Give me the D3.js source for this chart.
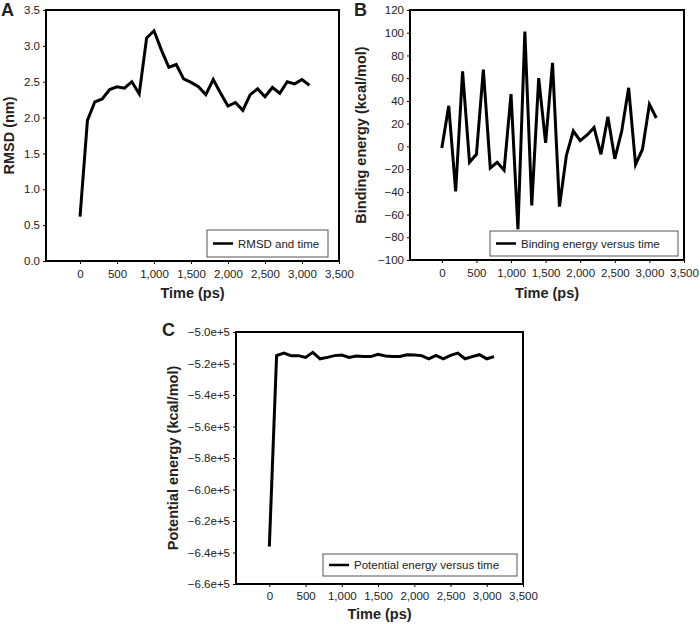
<!DOCTYPE html>
<html><head><meta charset="utf-8">
<script src="https://cdn.jsdelivr.net/npm/d3@7"></script>
<style>
body{margin:0;background:#fff;}
svg{display:block;font-family:Arial,"Liberation Sans",sans-serif;}
</style></head>
<body><svg id="c" width="700" height="624"></svg>
<script>
const timePs = [0,100,200,300,400,500,600,700,800,900,1000,1100,1200,1300,1400,1500,1600,1700,1800,1900,2000,2100,2200,2300,2400,2500,2600,2700,2800,2900,3000,3100];
const rmsd = [0.62,1.96,2.22,2.26,2.39,2.43,2.41,2.50,2.33,3.11,3.21,2.94,2.70,2.74,2.54,2.49,2.43,2.32,2.53,2.34,2.16,2.21,2.10,2.32,2.40,2.29,2.42,2.34,2.50,2.47,2.53,2.45];
const bindingEnergy = [-1.5,35.7,-39.7,66,-14,-7,67.5,-19,-14,-21,46,-73,101,-52,60,3,73.5,-53,-8,13.5,5,10,16.5,-7,26,-11,13.5,51.5,-16,-2.5,37,25];
const potentialEnergy = [-636200,-515000,-513400,-515000,-515000,-516100,-512900,-517000,-516100,-515000,-514600,-516100,-515200,-515600,-515600,-514200,-515200,-515600,-515600,-514400,-514600,-515000,-517000,-514800,-517000,-514800,-513400,-517000,-515600,-514400,-517000,-515600];
const xTicks = [0,500,1000,1500,2000,2500,3000,3500];
const rmsdTicks = [0,0.5,1,1.5,2,2.5,3,3.5];
const bindTicks = [-100,-80,-60,-40,-20,0,20,40,60,80,100,120];
const potTicks = [-660000,-640000,-620000,-600000,-580000,-560000,-540000,-520000,-500000];

const svg = d3.select("#c");
const fmtComma = d3.format(",");
const fmtExp = v => { const m = v/1e5; return (m<0?"\u2212":"")+Math.abs(m).toFixed(1)+"e+5"; };

function panel(o){
  const g = svg.append("g");
  const x = d3.scaleLinear().domain([-460,3500]).range([o.l,o.r]);
  const y = d3.scaleLinear().domain(o.yDomain).range([o.b,o.t]);
  const xa = g.append("g").attr("transform",`translate(0,${o.b})`)
    .call(d3.axisBottom(x).tickValues(xTicks).tickFormat(fmtComma).tickSize(3).tickSizeOuter(0).tickPadding(o.xPad));
  const ya = g.append("g").attr("transform",`translate(${o.l},0)`)
    .call(d3.axisLeft(y).tickValues(o.yTicks).tickFormat(o.yFmt).tickSize(3).tickSizeOuter(0).tickPadding(3));
  [xa,ya].forEach(a=>{
    a.select(".domain").remove();
    a.selectAll("text").attr("font-size","11.5px").attr("fill","#222").attr("font-family","Arial,'Liberation Sans',sans-serif");
    a.selectAll("line").attr("stroke","#000").attr("stroke-width",1);
  });
  const line = d3.line().x((d,i)=>x(timePs[i])).y(d=>y(d));
  g.append("path").datum(o.values).attr("d",line).attr("fill","none")
    .attr("stroke","#000").attr("stroke-width",3).attr("stroke-linejoin","miter");
  g.append("rect").attr("x",o.l).attr("y",o.t).attr("width",o.r-o.l).attr("height",o.b-o.t)
    .attr("fill","none").attr("stroke","#000").attr("stroke-width",2);
  // legend
  const L = o.leg;
  g.append("rect").attr("x",L.x).attr("y",L.y).attr("width",L.w).attr("height",L.h)
    .attr("fill","#fff").attr("stroke","#555").attr("stroke-width",1);
  g.append("line").attr("x1",L.x+6).attr("x2",L.x+26).attr("y1",L.y+L.h/2).attr("y2",L.y+L.h/2)
    .attr("stroke","#000").attr("stroke-width",2.5);
  g.append("text").attr("x",L.x+31).attr("y",L.y+L.h/2+4).attr("font-size","11.5px").attr("fill","#222").text(L.text);
  // titles
  g.append("text").attr("x",(o.l+o.r)/2).attr("y",o.xTitleY).attr("text-anchor","middle")
    .attr("font-size","14.5px").attr("font-weight","bold").attr("fill","#222").text("Time (ps)");
  g.append("text").attr("transform",`translate(${o.yTitleX},${(o.t+o.b)/2}) rotate(-90)`).attr("text-anchor","middle")
    .attr("font-size","14.5px").attr("font-weight","bold").attr("fill","#222").text(o.yTitle);
  g.append("text").attr("x",o.letter[0]).attr("y",o.letter[1]).attr("font-size","18px").attr("font-weight","bold").attr("fill","#222").text(o.letter[2]);
}

panel({l:46,r:339,t:10,b:261,yDomain:[0,3.5],yTicks:rmsdTicks,yFmt:d3.format(".1f"),values:rmsd,xPad:6,
  leg:{x:207,y:230,w:121,h:27,text:"RMSD and time"},xTitleY:298,yTitleX:14,yTitle:"RMSD (nm)",letter:[1,16,"A"]});
panel({l:410,r:684,t:10,b:260,yDomain:[-100,120],yTicks:bindTicks,yFmt:d3.format("d"),values:bindingEnergy,xPad:6,
  leg:{x:490,y:231,w:188,h:25,text:"Binding energy versus time"},xTitleY:298,yTitleX:366,yTitle:"Binding energy (kcal/mol)",letter:[354,16,"B"]});
panel({l:236,r:523,t:332,b:584,yDomain:[-660000,-500000],yTicks:potTicks,yFmt:fmtExp,values:potentialEnergy,xPad:5,
  leg:{x:323,y:554,w:194,h:22,text:"Potential energy versus time"},xTitleY:619,yTitleX:178,yTitle:"Potential energy (kcal/mol)",letter:[162,336,"C"]});
</script></body></html>
